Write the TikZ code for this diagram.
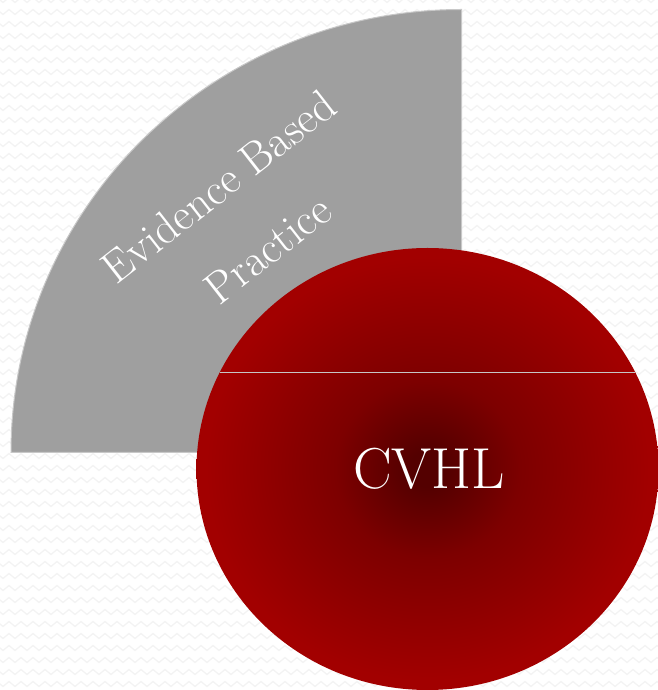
\documentclass[tikz,border=0pt]{standalone}
\usetikzlibrary{decorations.pathmorphing}
\definecolor{cvred}{RGB}{162,0,0}
\definecolor{cvmid}{RGB}{125,0,0}
\definecolor{cvdark}{RGB}{84,0,0}
\definecolor{ebpgray}{RGB}{159,159,159}
\definecolor{ebpedge}{RGB}{200,200,200}
\definecolor{zigbg}{RGB}{243,243,243}
\pgfdeclareradialshading{cvhlglow}{\pgfpoint{0bp}{0bp}}{%
  color(0bp)=(cvdark); color(2bp)=(cvdark); color(10bp)=(cvmid); color(24bp)=(cvred); color(50bp)=(cvred)}
\begin{document}
\begin{tikzpicture}[x=1bp,y=1bp,
    bgzig/.style={draw=zigbg,line width=1.3bp,decorate,decoration={zigzag,segment length=12bp,amplitude=2.5bp}},
    sector/.style={fill=ebpgray,draw=ebpedge,line width=1bp},
    lbl/.style={text=white,inner sep=0pt}]
  \useasboundingbox (0,0) rectangle (658,690);
  % faint zigzag background
  \foreach \r in {-6,6,...,696}{\draw[bgzig] (-6,\r) -- (670,\r);}
  % evidence based practice quarter
  \coordinate (ebpc) at (461.5,237.5);
  \draw[sector] (11,237.5) arc[start angle=180,end angle=90,x radius=450.5,y radius=443] -- (ebpc) -- cycle;
  \node[lbl,rotate=38,align=center,font=\fontsize{45}{80}\selectfont] (ebp) at (243,472.5) {Evidence Based\\Practice};
  % cvhl disc
  \shade[shading=cvhlglow] (427.5,221) ellipse[x radius=231,y radius=221];
  \coordinate (chordl) at (219.9,318);
  \coordinate (chordr) at (635.1,318);
  \draw[white!55!gray,line width=0.7bp] (chordl) -- (chordr);
  \node[lbl,font=\fontsize{58}{60}\selectfont] (cvhl) at (429,221) {CVHL};
\end{tikzpicture}
\end{document}
